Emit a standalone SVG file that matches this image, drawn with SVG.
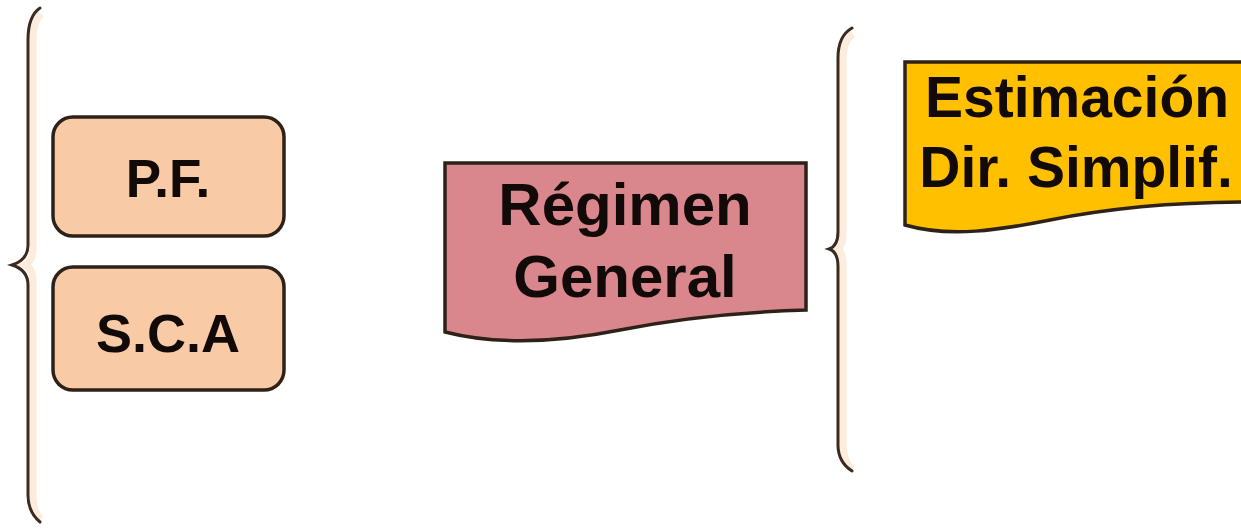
<svg xmlns="http://www.w3.org/2000/svg" width="1241" height="529" viewBox="0 0 1241 529">
  <style>
    .brace { fill: none; stroke: #3b2a20; stroke-width: 3; stroke-linecap: round; }
    .brace-glow { fill: none; stroke: #fdebdc; stroke-width: 7; }
    .pill { fill: #f9caa6; stroke: #2e2218; stroke-width: 3.5; }
    .doc { stroke: #2e2218; stroke-width: 3.5; stroke-linejoin: miter; }
    .label { font-family: "Liberation Sans", Arial, sans-serif; font-weight: bold; fill: #120a08; text-anchor: middle; }
  </style>
  <rect width="1241" height="529" fill="#ffffff"/>

  <!-- braces -->
  <g id="connectors">
    <path class="brace-glow" d="M41 14 Q33 22 33 40 L33 248 Q33 262 25 265 Q33 268 33 282 L33 495 Q33 512 41 519"/>
    <path class="brace" d="M40 8 Q28 16 28 40 L28 245 Q28 260 12 265 Q28 270 28 285 L28 495 Q28 512 40 522"/>
    <path class="brace-glow" d="M853 34 Q843 41 843 60 L843 233 Q843 246 838 249 Q843 252 843 265 L843 442 Q843 462 853 469"/>
    <path class="brace" d="M852 28 Q838 36 838 58 L838 232 Q838 246 829 249 Q838 252 838 266 L838 445 Q838 462 852 471"/>
  </g>

  <g id="node-pf">
    <rect class="pill" x="53" y="117" width="231" height="119" rx="20"/>
    <text class="label" x="168" y="197" font-size="53">P.F.</text>
  </g>

  <g id="node-sca">
    <rect class="pill" x="53" y="267" width="231" height="123" rx="20"/>
    <text class="label" x="168" y="352" font-size="54">S.C.A</text>
  </g>

  <g id="node-regimen">
    <path class="doc" fill="#d9878c" d="M445 163 L806 163 L806 310 C740 312 680 318 620 330 C560 342 500 346 445 332 Z"/>
    <text class="label" x="625" y="225" font-size="60">Régimen</text>
    <text class="label" x="625" y="297" font-size="60">General</text>
  </g>

  <g id="node-estimacion">
    <path class="doc" fill="#ffc000" d="M905 62 L1250 62 L1250 202 C1180 202 1110 208 1050 220 C1000 230 950 238 905 225 Z"/>
    <text class="label" x="1077" y="117" font-size="57">Estimación</text>
    <text class="label" x="1076" y="187" font-size="57">Dir. Simplif.</text>
  </g>
</svg>
